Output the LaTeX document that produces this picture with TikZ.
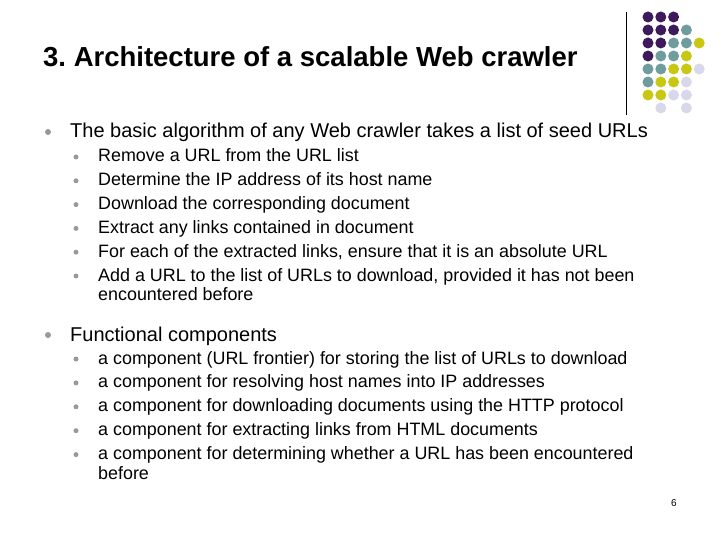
\documentclass[tikz,border=0pt]{standalone}
\usepackage{fontspec}
\setmainfont{Liberation Sans}
\frenchspacing
\begin{document}
\begin{tikzpicture}[x=1pt,y=-1pt,
  txt/.style={anchor=base west,inner sep=0pt},
  lone/.style={txt,font=\fontsize{20}{24}\selectfont},
  ltwo/.style={txt,font=\fontsize{17.9}{21}\selectfont},
  bul/.style={circle,fill=gray!80,inner sep=0pt,minimum size=6pt},
  sbul/.style={circle,fill=gray!80,inner sep=0pt,minimum size=5pt},
  dot/.style={circle,inner sep=0pt,minimum size=11pt}]
\definecolor{cpur}{HTML}{3D1A5C}
\definecolor{cteal}{HTML}{6F9C9C}
\definecolor{cyel}{HTML}{C8C814}
\definecolor{clav}{HTML}{D8D8EA}
\useasboundingbox (0,0) rectangle (720,540);
% logo
\draw[black] (626,12) -- (626,115);
\foreach \i/\row/\col in {0/0/cpur,1/0/cpur,2/0/cpur,
  0/1/cpur,1/1/cpur,2/1/cpur,3/1/cteal,
  0/2/cpur,1/2/cpur,2/2/cteal,3/2/cteal,4/2/cyel,
  0/3/cpur,1/3/cteal,2/3/cteal,3/3/cyel,
  0/4/cteal,1/4/cteal,2/4/cyel,3/4/cyel,4/4/clav,
  0/5/cteal,1/5/cyel,2/5/cyel,3/5/clav,
  0/6/cyel,1/6/cyel,2/6/clav,3/6/clav,
  1/7/clav,3/7/clav}
  \node[dot,fill=\col] (d\i\row) at (648+12.8*\i,17+13*\row) {};
% title
\node[txt,font=\fontsize{27.5}{32}\bfseries\selectfont] (title) at (43,67) {3. Architecture of a scalable Web crawler};
% first block
\node[bul] (b1) at (48,132) {};
\node[lone] (algo) at (70,138) {The basic algorithm of any Web crawler takes a list of seed URLs};
\foreach \t [count=\i] in {Remove a URL from the URL list,
  Determine the IP address of its host name,
  Download the corresponding document,
  Extract any links contained in document,
  {For each of the extracted links, ensure that it is an absolute URL},
  {Add a URL to the list of URLs to download, provided it has not been}}{
  \node[sbul] (sa\i) at (76,157+23.8*\i-23.8) {};
  \node[ltwo] (ta\i) at (98,162+23.8*\i-23.8) {\t};
}
\node[ltwo] (ta7) at (98,300) {encountered before};
% second block
\node[bul] (b2) at (48,335) {};
\node[lone] (func) at (70,341) {Functional components};
\foreach \t [count=\i] in {a component (URL frontier) for storing the list of URLs to download,
  a component for resolving host names into IP addresses,
  a component for downloading documents using the HTTP protocol,
  a component for extracting links from HTML documents,
  a component for determining whether a URL has been encountered}{
  \node[sbul] (sb\i) at (76,359+23.9*\i-23.9) {};
  \node[ltwo] (tb\i) at (98,364+23.9*\i-23.9) {\t};
}
\node[ltwo] (tb6) at (98,479) {before};
\node[txt,font=\fontsize{10}{12}\selectfont] (page) at (671,506) {6};
\end{tikzpicture}
\end{document}
